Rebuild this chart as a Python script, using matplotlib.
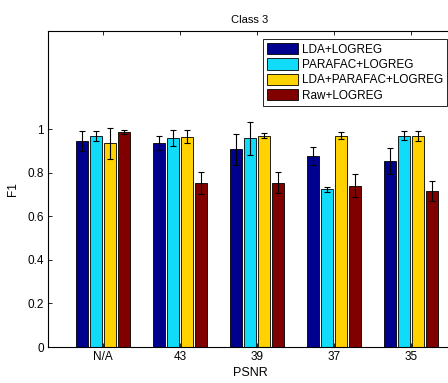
import matplotlib
matplotlib.use("Agg")
import matplotlib.pyplot as plt
import numpy as np

plt.rcParams['font.family'] = ['Liberation Sans', 'DejaVu Sans']

categories = ["N/A", "43", "39", "37", "35"]
series_names = ["LDA+LOGREG", "PARAFAC+LOGREG", "LDA+PARAFAC+LOGREG", "Raw+LOGREG"]
lda = [0.945, 0.936, 0.907, 0.876, 0.855]
parafac = [0.968, 0.959, 0.957, 0.723, 0.969]
lda_parafac = [0.934, 0.965, 0.969, 0.969, 0.969]
raw = [0.986, 0.754, 0.754, 0.739, 0.716]
lda_err = [0.047, 0.032, 0.070, 0.043, 0.060]
parafac_err = [0.025, 0.037, 0.077, 0.012, 0.020]
lda_parafac_err = [0.073, 0.030, 0.012, 0.016, 0.024]
raw_err = [0.010, 0.050, 0.048, 0.053, 0.047]

values = [lda, parafac, lda_parafac, raw]
errors = [lda_err, parafac_err, lda_parafac_err, raw_err]
colors = ["#00008F", "#10DCFA", "#FFD200", "#800000"]

fig = plt.figure(figsize=(4.48, 3.83), dpi=100)
ax = fig.add_axes([48/448, 1-347/383, 404/448, (347-31)/383])

x = np.arange(1, len(categories)+1)
pitch = 0.182
width = 0.155
for i, (v, e, c, n) in enumerate(zip(values, errors, colors, series_names)):
    xs = x + (i - 1.5) * pitch
    ax.bar(xs, v, width=width, color=c, edgecolor='black', linewidth=0.6, label=n, zorder=2)
    ax.errorbar(xs, v, yerr=e, fmt='none', ecolor='black', elinewidth=0.8,
                capsize=2.3, capthick=0.8, zorder=3)

ax.set_xlim(0.285, 5.53)
ax.set_ylim(0, 1.45)
ax.set_xticks(x)
ax.set_xticklabels(categories)
ax.set_yticks([0, 0.2, 0.4, 0.6, 0.8, 1.0])
ax.set_yticklabels(["0", "0.2", "0.4", "0.6", "0.8", "1"])
ax.tick_params(direction='in', top=True, right=True, labelsize=8.5, length=3, width=0.6, pad=3)
for s in ax.spines.values():
    s.set_linewidth(0.8)
ax.set_title("Class 3", fontsize=8, pad=6)
ax.set_xlabel("PSNR", fontsize=9, labelpad=3)
ax.set_ylabel("F1", fontsize=8.5, labelpad=6)

leg = ax.legend(loc='upper right', fontsize=8.5, frameon=True, fancybox=False,
                edgecolor='black', framealpha=1, borderaxespad=0.0,
                handlelength=2.6, handleheight=1.1, handletextpad=0.3,
                labelspacing=0.22, borderpad=0.35,
                bbox_to_anchor=((447-48)/404, (347-39)/316))
leg.get_frame().set_linewidth(0.6)

fig.savefig("out.png", dpi=100)
